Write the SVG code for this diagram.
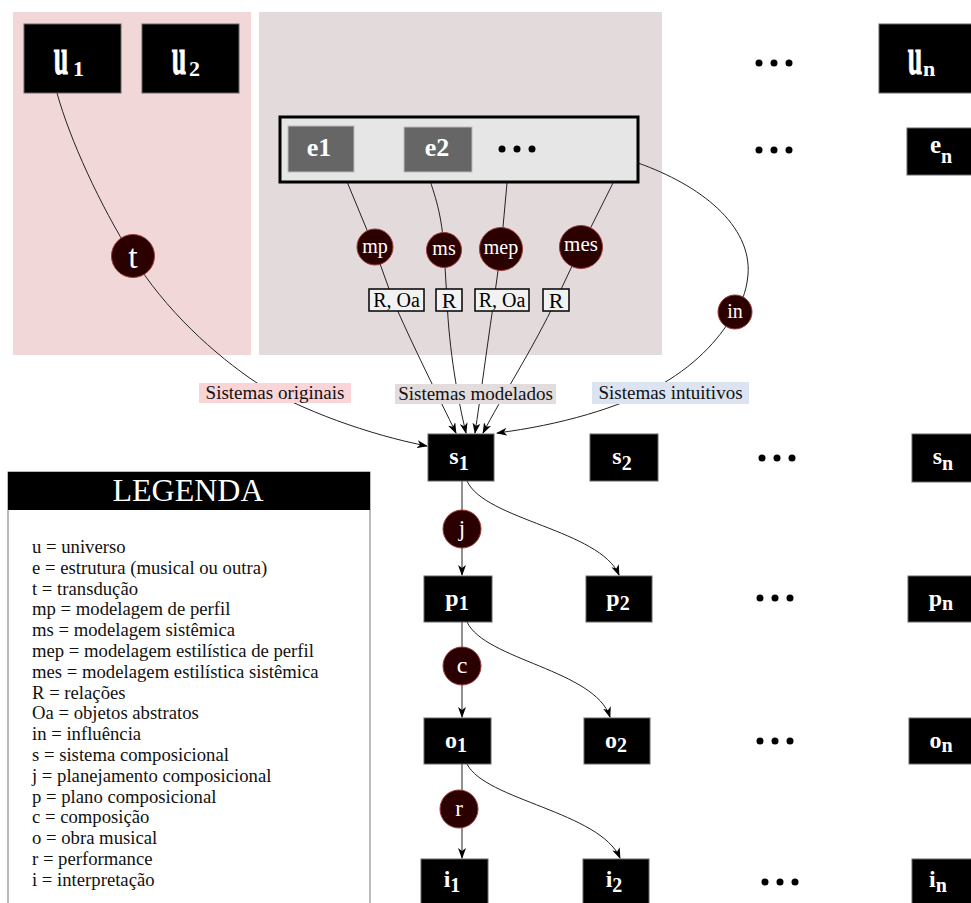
<svg xmlns="http://www.w3.org/2000/svg" width="971" height="903" viewBox="0 0 971 903">
  <style>
    .serif { font-family: "Liberation Serif", "Times New Roman", serif; }
    .blk { fill: #000; stroke: #666; stroke-width: 1; }
    .ebox { fill: #666; stroke: #bbb; stroke-width: 1; }
    .lbl { font-family: "Liberation Serif", serif; font-weight: bold; fill: #fff; text-anchor: middle; }
    .big { font-family: "Liberation Serif", serif; font-weight: bold; fill: #fff; stroke: #fff; stroke-width: 0.5; font-size: 26px; text-anchor: middle; }
    .sub { font-family: "Liberation Serif", serif; font-weight: bold; fill: #fff; font-size: 22px; }
    .op { fill: #2b0000; stroke: #9a3a3a; stroke-width: 1; }
    .optxt { font-family: "Liberation Serif", serif; fill: #fff; text-anchor: middle; }
    .rel { fill: #f2f2f2; stroke: #000; stroke-width: 1.5; }
    .reltxt { font-family: "Liberation Serif", serif; fill: #000; text-anchor: middle; }
    .edge { fill: none; stroke: #222; stroke-width: 1; }
    .cat { font-family: "Liberation Serif", serif; fill: #111; font-size: 19px; text-anchor: middle; }
    .leg { font-family: "Liberation Serif", serif; fill: #111; font-size: 18.7px; }
    .dot { fill: #000; }
  </style>
  <defs>
    <marker id="arr" markerWidth="11" markerHeight="8" refX="10" refY="4" orient="auto" markerUnits="userSpaceOnUse">
      <path d="M0,0 L11,4 L0,8 L3,4 z" fill="#000"/>
    </marker>
  </defs>

  <!-- background regions -->
  <rect id="zone-originais" x="13" y="12" width="238" height="343" fill="#f2d7d8"/>
  <rect id="zone-modelados" x="259" y="12" width="403" height="343" fill="#e2dadb"/>

  <!-- connectors -->
  <g id="connectors">
    <path class="edge" marker-end="url(#arr)" d="M57,93 C70,140 100,205 132,256 C165,310 215,355 257,383 C300,410 370,435 427,446"/>
    <path class="edge" marker-end="url(#arr)" d="M343,172 L374,247 L393,300 C410,340 440,400 456,433"/>
    <path class="edge" marker-end="url(#arr)" d="M427,172 C435,195 442,215 444,250 L447,300 C449,350 458,400 466,433"/>
    <path class="edge" marker-end="url(#arr)" d="M507,183 L501,249 L494,300 C488,340 480,400 475,433"/>
    <path class="edge" marker-end="url(#arr)" d="M613,183 L581,247 L556,300 C535,345 500,400 483,433"/>
    <path class="edge" marker-end="url(#arr)" d="M638,163 C700,185 752,225 748,275 C746,295 740,305 735,312 C722,335 700,362 662,384 C620,408 560,425 497,433"/>
    <path class="edge" marker-end="url(#arr)" d="M462,481 L462,575"/>
    <path class="edge" marker-end="url(#arr)" d="M467,481 C485,520 600,530 619,575"/>
    <path class="edge" marker-end="url(#arr)" d="M462,622 L462,717"/>
    <path class="edge" marker-end="url(#arr)" d="M467,622 C485,660 595,670 610,717"/>
    <path class="edge" marker-end="url(#arr)" d="M462,764 L462,858"/>
    <path class="edge" marker-end="url(#arr)" d="M467,764 C485,800 600,812 620,858"/>
  </g>

  <!-- universes -->
  <g id="u1">
    <rect class="blk" x="24" y="24" width="97" height="69"/>
    <text class="big" transform="translate(61,74) scale(1,2)">u</text>
    <text class="sub" x="73" y="76">1</text>
  </g>
  <g id="u2">
    <rect class="blk" x="142" y="24" width="97" height="69"/>
    <text class="big" transform="translate(179,74) scale(1,2)">u</text>
    <text class="sub" x="189" y="76">2</text>
  </g>
  <g id="un">
    <rect class="blk" x="879" y="24" width="97" height="69"/>
    <text class="big" transform="translate(915,74) scale(1,2)">u</text>
    <text class="sub" x="923" y="76">n</text>
  </g>

  <!-- structures -->
  <g id="structures">
    <rect x="280" y="117" width="358" height="65" fill="#e6e6e6" stroke="#000" stroke-width="3"/>
    <g id="e1">
      <rect class="ebox" x="288" y="126" width="66" height="46"/>
      <text class="lbl" x="319" y="156" font-size="26">e1</text>
    </g>
    <g id="e2">
      <rect class="ebox" x="404" y="127" width="68" height="45"/>
      <text class="lbl" x="437" y="156" font-size="26">e2</text>
    </g>
    <circle class="dot" cx="502" cy="149" r="3.5"/>
    <circle class="dot" cx="517" cy="149" r="3.5"/>
    <circle class="dot" cx="532" cy="149" r="3.5"/>
  </g>
  <g id="en">
    <rect class="blk" x="907" y="128" width="70" height="47"/>
    <text class="lbl" x="941" y="153" font-size="25">e<tspan dy="10" font-size="20">n</tspan></text>
  </g>

  <!-- ellipses between columns -->
  <g id="ellipses">
    <circle class="dot" cx="759" cy="63" r="3.5"/><circle class="dot" cx="774" cy="63" r="3.5"/><circle class="dot" cx="789" cy="63" r="3.5"/>
    <circle class="dot" cx="759" cy="150" r="3.5"/><circle class="dot" cx="774" cy="150" r="3.5"/><circle class="dot" cx="789" cy="150" r="3.5"/>
    <circle class="dot" cx="762" cy="458" r="3.5"/><circle class="dot" cx="777" cy="458" r="3.5"/><circle class="dot" cx="792" cy="458" r="3.5"/>
    <circle class="dot" cx="760" cy="598" r="3.5"/><circle class="dot" cx="775" cy="598" r="3.5"/><circle class="dot" cx="790" cy="598" r="3.5"/>
    <circle class="dot" cx="760" cy="741" r="3.5"/><circle class="dot" cx="775" cy="741" r="3.5"/><circle class="dot" cx="790" cy="741" r="3.5"/>
    <circle class="dot" cx="765" cy="882" r="3.5"/><circle class="dot" cx="780" cy="882" r="3.5"/><circle class="dot" cx="795" cy="882" r="3.5"/>
  </g>

  <!-- operations -->
  <g id="op-t"><circle class="op" cx="133" cy="256" r="21.5"/><text class="optxt" x="133" y="268" style="font-size:34px">t</text></g>
  <g id="op-mp"><circle class="op" cx="375" cy="247" r="18"/><text class="optxt" x="375" y="253" style="font-size:20px">mp</text></g>
  <g id="op-ms"><circle class="op" cx="444" cy="250" r="17.5"/><text class="optxt" x="444" y="255" style="font-size:20px">ms</text></g>
  <g id="op-mep"><circle class="op" cx="501" cy="249" r="21.5"/><text class="optxt" x="501" y="254" style="font-size:20px">mep</text></g>
  <g id="op-mes"><circle class="op" cx="581" cy="247" r="21.5"/><text class="optxt" x="581" y="251" style="font-size:21px">mes</text></g>
  <g id="op-in"><circle class="op" cx="735" cy="312" r="17"/><text class="optxt" x="735" y="318" style="font-size:20px">in</text></g>
  <g id="op-j"><circle class="op" cx="462" cy="529" r="19"/><text class="optxt" x="462" y="536" style="font-size:23px">j</text></g>
  <g id="op-c"><circle class="op" cx="462" cy="666" r="19"/><text class="optxt" x="462" y="673" style="font-size:24px">c</text></g>
  <g id="op-r"><circle class="op" cx="459" cy="809" r="19"/><text class="optxt" x="459" y="816" style="font-size:23px">r</text></g>

  <!-- relation tags -->
  <g id="rel-1"><rect class="rel" x="369" y="289" width="55" height="22"/><text class="reltxt" x="396.5" y="307" style="font-size:20px">R, Oa</text></g>
  <g id="rel-2"><rect class="rel" x="436" y="289" width="26" height="22"/><text class="reltxt" x="449" y="308" style="font-size:22px">R</text></g>
  <g id="rel-3"><rect class="rel" x="475" y="289" width="54" height="22"/><text class="reltxt" x="502" y="307" style="font-size:20px">R, Oa</text></g>
  <g id="rel-4"><rect class="rel" x="543" y="289" width="26" height="22"/><text class="reltxt" x="556" y="308" style="font-size:22px">R</text></g>

  <!-- system categories -->
  <g id="cat-originais"><rect x="199" y="383" width="152" height="20" fill="#fad4d7"/><text class="cat" x="275" y="399">Sistemas originais</text></g>
  <g id="cat-modelados"><rect x="395" y="384" width="161" height="20" fill="#e3dcdc"/><text class="cat" x="475.5" y="400">Sistemas modelados</text></g>
  <g id="cat-intuitivos"><rect x="592" y="382" width="157" height="22" fill="#dce4f2"/><text class="cat" x="670.5" y="399">Sistemas intuitivos</text></g>

  <!-- compositional systems -->
  <g id="s1"><rect class="blk" x="428" y="434" width="66" height="47"/><text class="lbl" x="459" y="464" font-size="24">s<tspan dy="6" font-size="20">1</tspan></text></g>
  <g id="s2"><rect class="blk" x="590" y="434" width="68" height="47"/><text class="lbl" x="622" y="464" font-size="24">s<tspan dy="6" font-size="20">2</tspan></text></g>
  <g id="sn"><rect class="blk" x="912" y="434" width="68" height="48"/><text class="lbl" x="943" y="464" font-size="24">s<tspan dy="6" font-size="20">n</tspan></text></g>

  <!-- plans -->
  <g id="p1"><rect class="blk" x="424" y="576" width="68" height="46"/><text class="lbl" x="457" y="606" font-size="24">p<tspan dy="4" font-size="20">1</tspan></text></g>
  <g id="p2"><rect class="blk" x="586" y="576" width="66" height="46"/><text class="lbl" x="618" y="606" font-size="24">p<tspan dy="4" font-size="20">2</tspan></text></g>
  <g id="pn"><rect class="blk" x="908" y="576" width="70" height="46"/><text class="lbl" x="941" y="606" font-size="24">p<tspan dy="4" font-size="20">n</tspan></text></g>

  <!-- works -->
  <g id="o1"><rect class="blk" x="424" y="718" width="67" height="46"/><text class="lbl" x="456" y="748" font-size="24">o<tspan dy="4" font-size="20">1</tspan></text></g>
  <g id="o2"><rect class="blk" x="584" y="718" width="66" height="46"/><text class="lbl" x="616" y="748" font-size="24">o<tspan dy="4" font-size="20">2</tspan></text></g>
  <g id="on"><rect class="blk" x="909" y="718" width="70" height="46"/><text class="lbl" x="941" y="748" font-size="24">o<tspan dy="4" font-size="20">n</tspan></text></g>

  <!-- interpretations -->
  <g id="i1"><rect class="blk" x="421" y="859" width="67" height="50"/><text class="lbl" x="452" y="887" font-size="24">i<tspan dy="5" font-size="20">1</tspan></text></g>
  <g id="i2"><rect class="blk" x="583" y="859" width="66" height="50"/><text class="lbl" x="614" y="887" font-size="24">i<tspan dy="5" font-size="20">2</tspan></text></g>
  <g id="in"><rect class="blk" x="912" y="859" width="70" height="50"/><text class="lbl" x="938" y="887" font-size="24">i<tspan dy="5" font-size="20">n</tspan></text></g>

  <!-- legend -->
  <g id="legend">
    <rect x="8" y="472" width="362" height="440" fill="#fff" stroke="#777" stroke-width="1"/>
    <rect x="8" y="472" width="362" height="38" fill="#000"/>
    <text class="serif" x="188" y="501" font-size="32" fill="#fff" text-anchor="middle">LEGENDA</text>
    <text class="leg" x="32" y="553">u = universo</text>
    <text class="leg" x="32" y="573.8">e = estrutura (musical ou outra)</text>
    <text class="leg" x="32" y="594.6">t = transdução</text>
    <text class="leg" x="32" y="615.4">mp = modelagem de perfil</text>
    <text class="leg" x="32" y="636.2">ms = modelagem sistêmica</text>
    <text class="leg" x="32" y="657">mep = modelagem estilística de perfil</text>
    <text class="leg" x="32" y="677.8">mes = modelagem estilística sistêmica</text>
    <text class="leg" x="32" y="698.6">R = relações</text>
    <text class="leg" x="32" y="719.4">Oa = objetos abstratos</text>
    <text class="leg" x="32" y="740.2">in = influência</text>
    <text class="leg" x="32" y="761">s = sistema composicional</text>
    <text class="leg" x="32" y="781.8">j = planejamento composicional</text>
    <text class="leg" x="32" y="802.6">p = plano composicional</text>
    <text class="leg" x="32" y="823.4">c = composição</text>
    <text class="leg" x="32" y="844.2">o = obra musical</text>
    <text class="leg" x="32" y="865">r = performance</text>
    <text class="leg" x="32" y="885.8">i = interpretação</text>
  </g>
</svg>
